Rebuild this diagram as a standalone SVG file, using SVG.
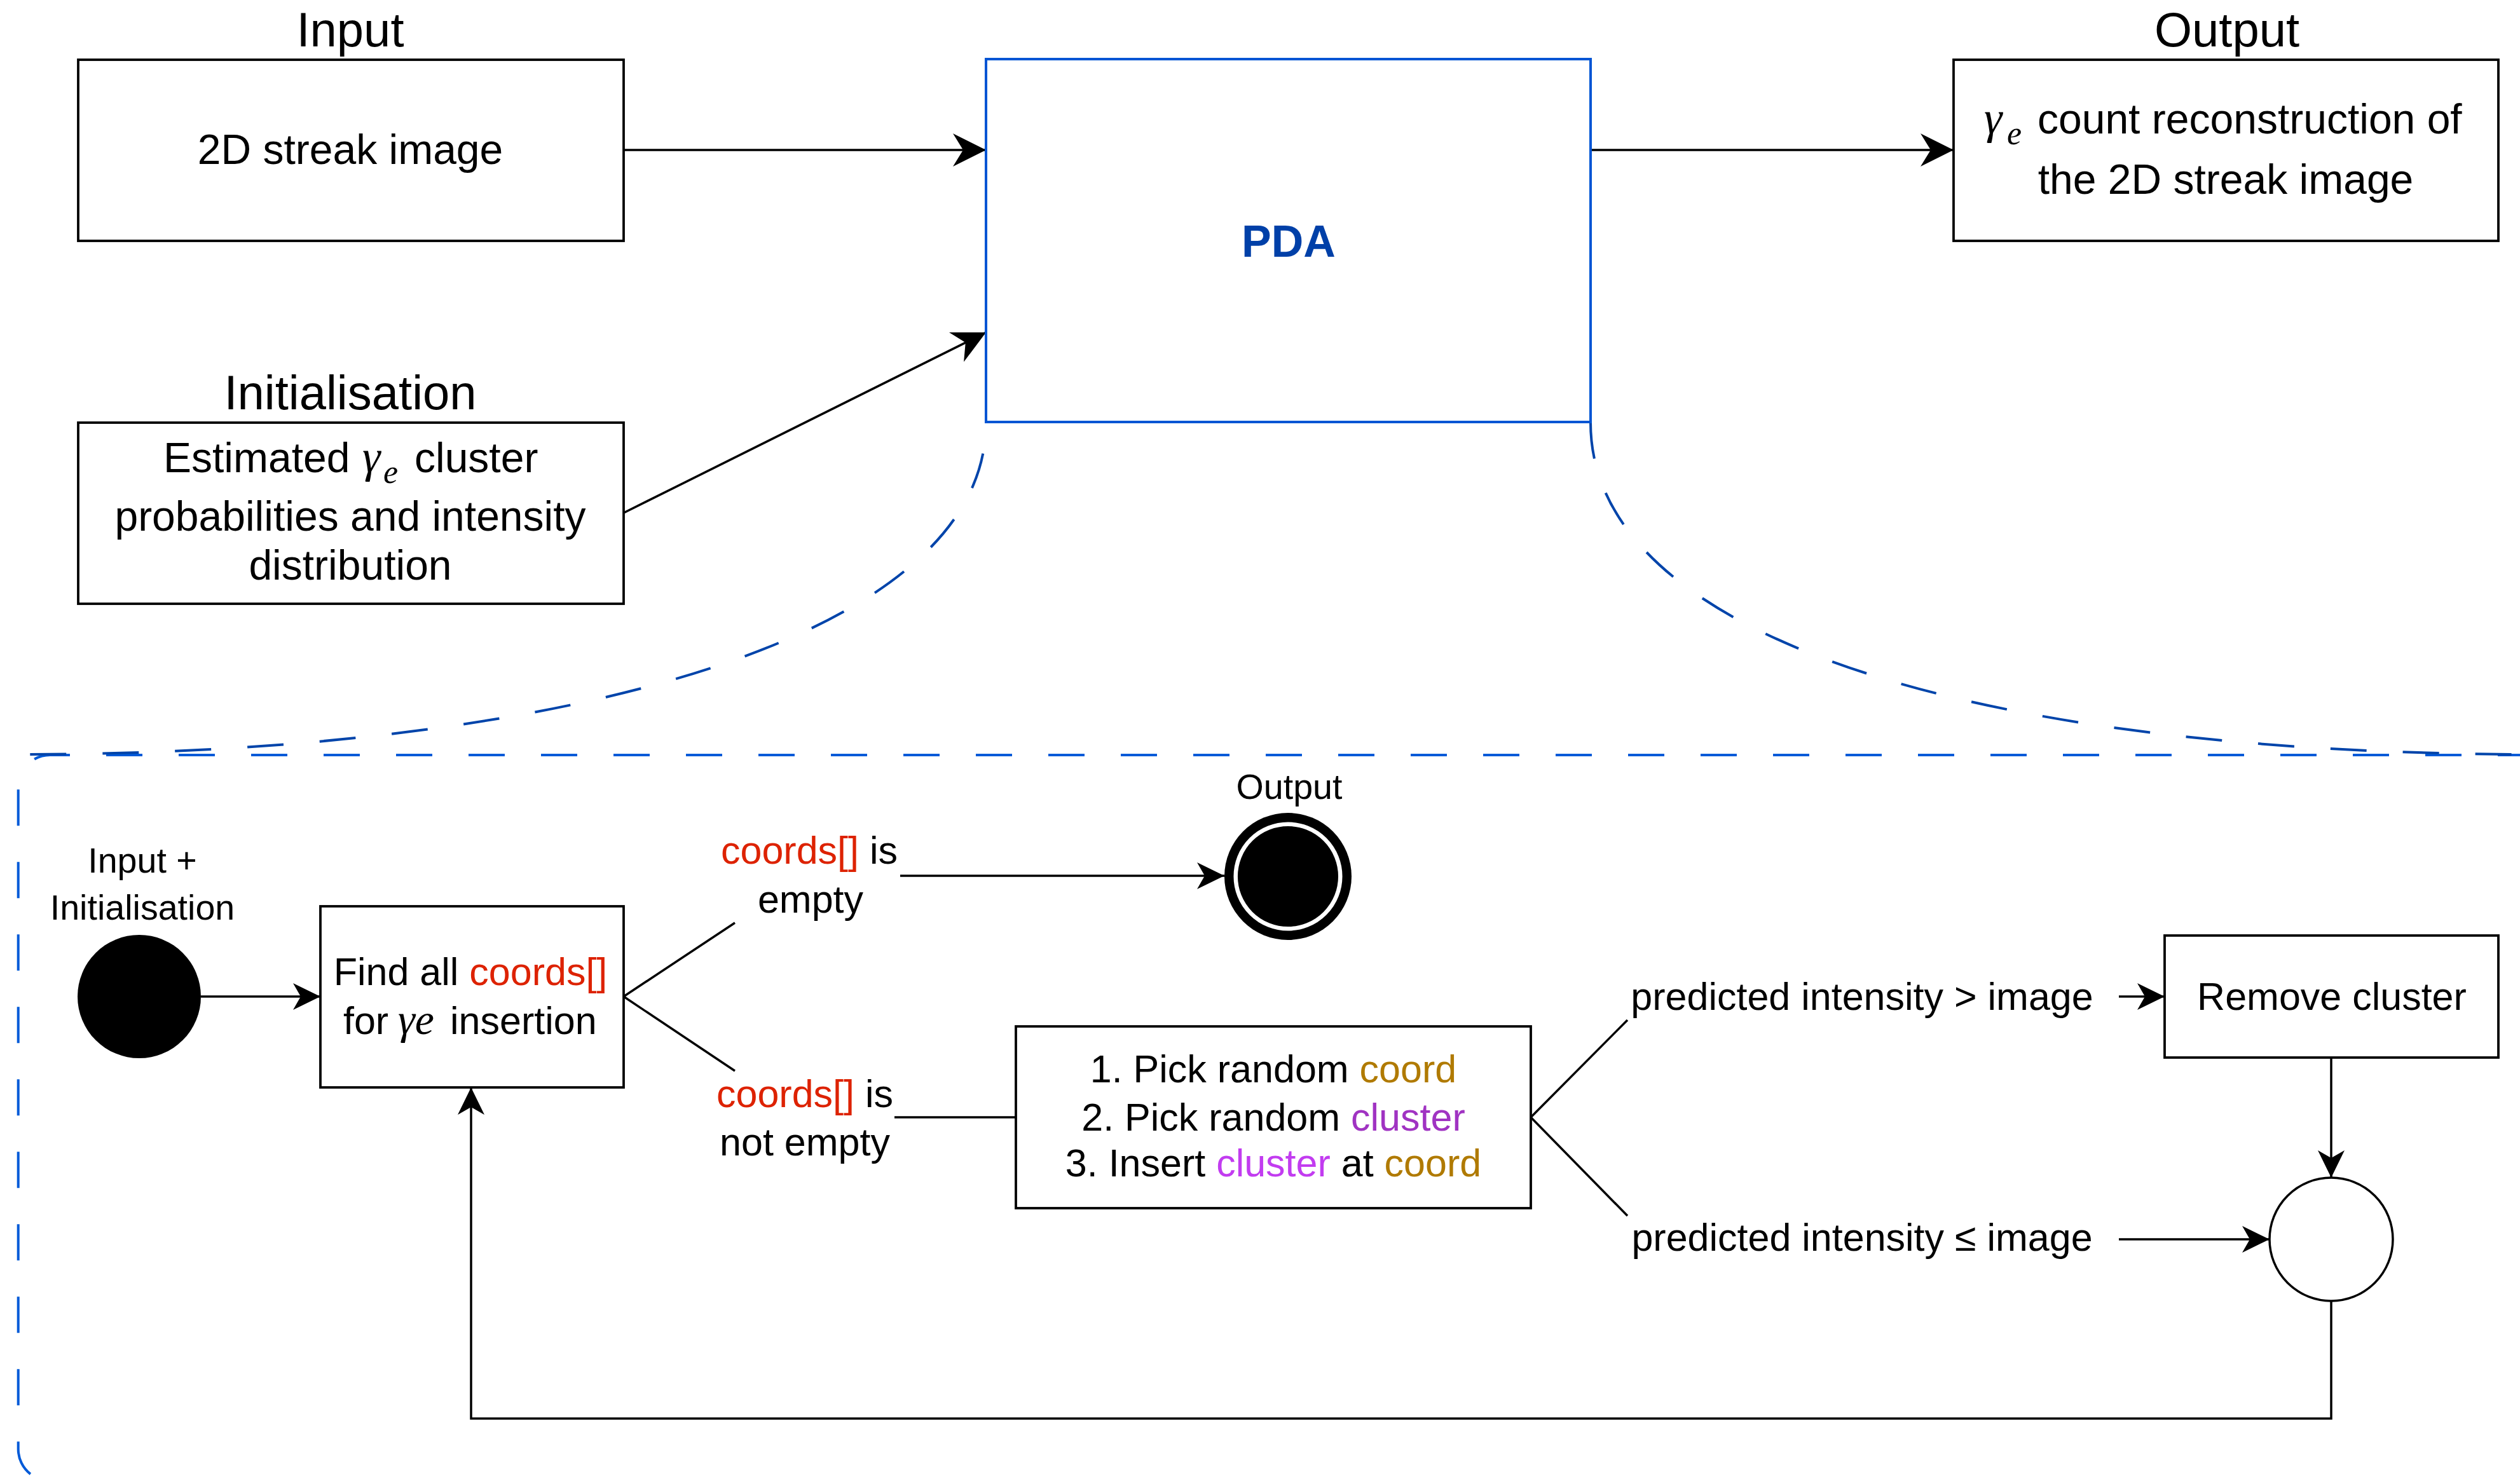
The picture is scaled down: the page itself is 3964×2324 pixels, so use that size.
<svg xmlns="http://www.w3.org/2000/svg" width="3964" height="2324" viewBox="0 0 3964 2324">
<defs>
<style>
text{font-family:"Liberation Sans",Arial,sans-serif;fill:#000}
.t76{font-size:76px}
.t66{font-size:66px}
.t61{font-size:61px}
.t55{font-size:55.6px}
.mid{text-anchor:middle}
.box{fill:#fff;stroke:#000;stroke-width:3.8}
.ln{fill:none;stroke:#000;stroke-width:3.5}
.math{font-family:"Liberation Serif","DejaVu Serif",serif;font-style:italic}
.red{fill:#DD2200}
.gold{fill:#B07A00}
.pur{fill:#A033C2}
.mag{fill:#C23CF0}
.dash{fill:none;stroke-width:4;stroke-dasharray:57 57}
</style>
<marker id="ab" markerUnits="userSpaceOnUse" viewBox="0 0 52 52" refX="52" refY="26" markerWidth="52" markerHeight="52" orient="auto"><path d="M0,0 L52,26 L0,52 L16,26 Z" fill="#000"/></marker>
<marker id="as" markerUnits="userSpaceOnUse" viewBox="0 0 43 42" refX="43" refY="21" markerWidth="43" markerHeight="42" orient="auto"><path d="M0,0 L43,21 L0,42 L12,21 Z" fill="#000"/></marker>
</defs>
<rect x="0" y="0" width="3964" height="2324" fill="#fff"/>

<g id="zoom-outline">
<path class="dash" stroke="#005AD8" d="M4100,1188 L78.7,1188 A50,50 0 0 0 28.7,1238 L28.7,2280 A50,50 0 0 0 78.7,2330 L4100,2330"/>
<path class="dash" stroke="#0044AA" stroke-dashoffset="65" d="M1551,665 C1551,1000 900,1187 29,1187"/>
<path class="dash" stroke="#0044AA" d="M2502,665 C2502,1000 3100,1187 3990,1187"/>
</g>

<g id="connectors">
<path class="ln" d="M981,236 L1551,236" marker-end="url(#ab)"/>
<path class="ln" d="M981,807 L1551,523" marker-end="url(#ab)"/>
<path class="ln" d="M2502,236 L3073,236" marker-end="url(#ab)"/>
<path class="ln" d="M316,1568 L504,1568" marker-end="url(#as)"/>
<path class="ln" d="M981,1568 L1156,1452"/>
<path class="ln" d="M981,1568 L1156,1685"/>
<path class="ln" d="M1416,1378 L1926,1378" marker-end="url(#as)"/>
<path class="ln" d="M1407,1758 L1598,1758"/>
<path class="ln" d="M2408,1758 L2560,1605"/>
<path class="ln" d="M2408,1758 L2560,1913"/>
<path class="ln" d="M3333,1568 L3405,1568" marker-end="url(#as)"/>
<path class="ln" d="M3667,1664 L3667,1853" marker-end="url(#as)"/>
<path class="ln" d="M3333,1950 L3570,1950" marker-end="url(#as)"/>
<path class="ln" d="M3667,2047 L3667,2232 L741,2232 L741,1711" marker-end="url(#as)"/>
<text class="t61 mid" x="1273" y="1359"><tspan class="red">coords[]</tspan> is</text>
<text class="t61 mid" x="1275" y="1436">empty</text>
<text class="t61 mid" x="1266" y="1742"><tspan class="red">coords[]</tspan> is</text>
<text class="t61 mid" x="1266" y="1818">not empty</text>
<text class="t61 mid" x="2929" y="1589">predicted intensity &gt; image</text>
<text class="t61 mid" x="2929" y="1968">predicted intensity ≤ image</text>
</g>

<g id="input">
<text class="t76 mid" x="551" y="73">Input</text>
<rect class="box" x="123" y="94" width="858" height="285"/>
<text class="t66 mid" x="551" y="258">2D streak image</text>
</g>

<g id="initialisation">
<text class="t76 mid" x="551" y="644">Initialisation</text>
<rect class="box" x="123" y="665" width="858" height="285"/>
<text class="t66" x="257" y="743">Estimated</text>
<text class="math" x="570" y="743" font-size="72">γ</text>
<text class="math" x="603" y="760" font-size="52">e</text>
<text class="t66" x="652" y="743">cluster</text>
<text class="t66 mid" x="551" y="835">probabilities and intensity</text>
<text class="t66 mid" x="551" y="912">distribution</text>
</g>

<g id="pda">
<rect x="1551" y="93" width="951" height="571" fill="#fff" stroke="#0055D4" stroke-width="4"/>
<text class="mid" x="2027" y="404" font-size="70" font-weight="bold" style="fill:#0040A8">PDA</text>
</g>

<g id="output">
<text class="t76 mid" x="3503" y="73">Output</text>
<rect class="box" x="3073" y="94" width="857" height="285"/>
<text class="math" x="3121" y="210" font-size="72">γ</text>
<text class="math" x="3157" y="227" font-size="52">e</text>
<text class="t66" x="3205" y="210">count reconstruction of</text>
<text class="t66 mid" x="3501" y="305">the 2D streak image</text>
</g>

<g id="start">
<text class="t55 mid" x="224" y="1373">Input +</text>
<text class="t55 mid" x="224" y="1447">Initialisation</text>
<circle cx="219" cy="1568" r="97" fill="#000"/>
</g>

<g id="find-coords">
<rect class="box" x="504" y="1426" width="477" height="285"/>
<text class="t61 mid" x="740" y="1550">Find all <tspan class="red">coords[]</tspan></text>
<text class="t61" x="540" y="1627">for</text>
<text class="math" x="626" y="1627" font-size="68">γe</text>
<text class="t61" x="708" y="1627">insertion</text>
</g>

<g id="end">
<text class="t55 mid" x="2028" y="1257">Output</text>
<circle cx="2026" cy="1379" r="100" fill="#000"/>
<circle cx="2026" cy="1379" r="82.3" fill="#000" stroke="#fff" stroke-width="6.5"/>
</g>

<g id="pick">
<rect class="box" x="1598" y="1615" width="810" height="286"/>
<text class="t61 mid" x="2003" y="1703">1. Pick random <tspan class="gold">coord</tspan></text>
<text class="t61 mid" x="2003" y="1779">2. Pick random <tspan class="pur">cluster</tspan></text>
<text class="t61 mid" x="2003" y="1851">3. Insert <tspan class="mag">cluster</tspan> at <tspan class="gold">coord</tspan></text>
</g>

<g id="remove">
<rect class="box" x="3405" y="1472" width="525" height="192"/>
<text class="t61 mid" x="3668" y="1589">Remove cluster</text>
</g>

<g id="merge">
<circle cx="3667" cy="1950" r="97" fill="#fff" stroke="#000" stroke-width="3.5"/>
</g>
</svg>
